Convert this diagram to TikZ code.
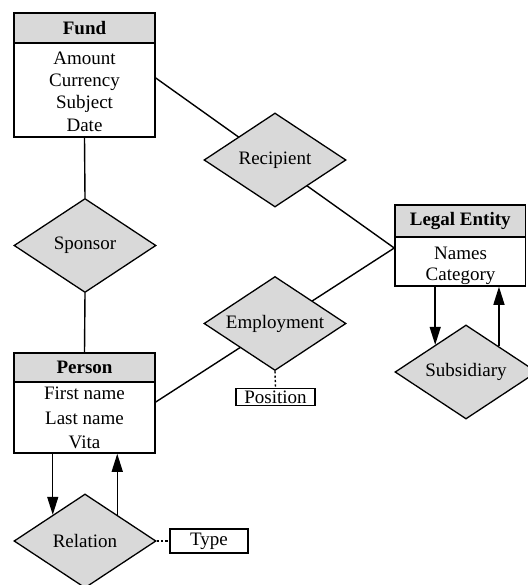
\documentclass[tikz,border=0pt]{standalone}
\usepackage{fontspec}
\setmainfont{Liberation Serif}
\usetikzlibrary{shapes.geometric,arrows.meta,calc}
\definecolor{boxgray}{RGB}{217,217,217}

\begin{document}
\begin{tikzpicture}[x=1pt,y=-1pt,
  every node/.style={font=\fontsize{19}{22}\selectfont},
  header/.style={draw, fill=boxgray, line width=1.5pt, inner sep=0pt,
    font=\fontsize{19}{22}\selectfont\bfseries},
  body/.style={draw, fill=white, line width=1.5pt, inner sep=0pt},
  attrs/.style={align=center, inner sep=0pt},
  relship/.style={diamond, draw, fill=boxgray, line width=1.3pt, inner sep=0pt,
    aspect=1.5, minimum width=142pt, minimum height=94pt},
  attrbox/.style={draw, fill=white, line width=1.4pt, inner sep=0pt},
  link/.style={line width=1.4pt},
  arrowlink/.style={line width=1.4pt, -{Triangle[width=11pt,length=18pt]}},
  dotlink/.style={line width=1.4pt, dash pattern=on 2.2pt off 2.2pt}
]
\useasboundingbox (0,0) rectangle (527,585);

% entity boxes: header and attribute compartment
\node[header, minimum width=141pt, minimum height=30pt] (fundH) at (84.5,28) {Fund};
\node[body, minimum width=141pt, minimum height=94pt] (fundB) at (84.5,90) {};
\node[attrs, font=\fontsize{19}{22.3}\selectfont] (fundA) at (84.5,91.5)
  {Amount\\Currency\\Subject\\Date};

\node[header, minimum width=141pt, minimum height=29pt] (personH) at (84.5,367.5) {Person};
\node[body, minimum width=141pt, minimum height=71pt] (personB) at (84.5,417.5) {};
\node[attrs, font=\fontsize{19}{24.5}\selectfont] (personA) at (84.5,418)
  {First name\\Last name\\Vita};

\node[header, minimum width=130.5pt, minimum height=32pt] (legalH) at (460.25,221) {Legal Entity};
\node[body, minimum width=130.5pt, minimum height=49pt] (legalB) at (460.25,261.5) {};

% connectors behind the relationship diamonds
\draw[link] ([yshift=12pt]fundB.east) -- ([yshift=13.5pt]legalB.west);
\draw[link] ([yshift=15.5pt]personB.east) -- ([yshift=13.5pt]legalB.west);
\node[attrs, font=\fontsize{19}{21.5}\selectfont] (legalA) at (460.5,266)
  {Names\\Category};

% relationships
\node[relship] (recip) at (275,160) {Recipient};
\node[relship] (sponsor) at (85,245.5) {Sponsor};
\node[relship] (employ) at (275,323.5) {Employment};
\node[relship] (subsid) at (466,372) {Subsidiary};
\node[relship] (relation) at (85,541) {Relation};

% attributes of relationships
\node[attrbox, minimum width=79pt, minimum height=17.5pt] (position) at (275.5,397) {Position};
\node[attrbox, minimum width=78pt, minimum height=24pt] (type) at (209,541) {Type};

\draw[link] (fundB.south) -- (sponsor.north);
\draw[link] (sponsor.south) -- (personH.north);

\draw[dotlink] (employ.south) -- (position.north);
\draw[dotlink] (relation.east) -- (type.west);

% self relations
\coordinate (relIn) at ($(relation.north)!0.45!(relation.west)$);
\coordinate (relOut) at ($(relation.north)!0.45!(relation.east)$);
\draw[arrowlink] (personB.south -| relIn) -- (relIn);
\draw[arrowlink] (relOut) -- (personB.south -| relOut);

\coordinate (subIn) at ($(subsid.north)!0.43!(subsid.west)$);
\coordinate (subOut) at ($(subsid.north)!0.46!(subsid.east)$);
\draw[arrowlink] (legalB.south -| subIn) -- (subIn);
\draw[arrowlink] (subOut) -- (legalB.south -| subOut);
\end{tikzpicture}
\end{document}
